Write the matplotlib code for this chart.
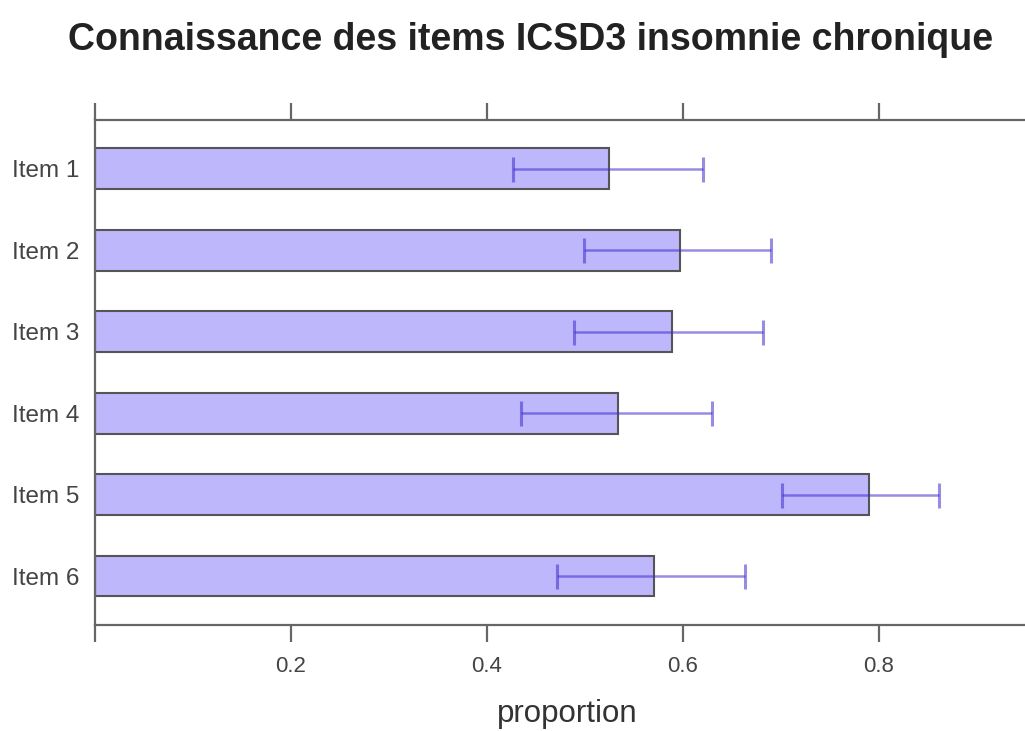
import matplotlib.pyplot as plt
import numpy as np

plt.rcParams['font.family'] = ['Liberation Sans', 'DejaVu Sans']

# Data
items = ['Item 1', 'Item 2', 'Item 3', 'Item 4', 'Item 5', 'Item 6']
proportion = [0.524, 0.597, 0.589, 0.534, 0.790, 0.570]
ci_low = [0.427, 0.499, 0.489, 0.435, 0.701, 0.471]
ci_high = [0.620, 0.690, 0.682, 0.630, 0.861, 0.663]
ticks = [0.0, 0.2, 0.4, 0.6, 0.8]
tick_labels = ['', '0.2', '0.4', '0.6', '0.8']

pos = np.arange(len(items))
prop = np.array(proportion)
err = [prop - np.array(ci_low), np.array(ci_high) - prop]

fig = plt.figure(figsize=(10.25, 7.31), dpi=100)
ax = fig.add_axes([0.0927, 0.145, 0.9073, 0.691])

ax.barh(pos, prop, height=0.5, color='#BEB7FC', edgecolor='#555555', linewidth=1.5, zorder=2)
ax.errorbar(prop, pos, xerr=err, fmt='none', ecolor=(0.25, 0.18, 0.8, 0.55),
            elinewidth=1.8, capsize=9, capthick=2.2, zorder=3)

ax.set_xlim(0, 0.949)
ax.set_ylim(5.6, -0.6)
ax.set_yticks(pos)
ax.set_yticklabels(items)
ax.set_xticks(ticks)
ax.set_xticklabels(tick_labels)

for s in ['left', 'top', 'bottom']:
    ax.spines[s].set_color('#666666')
    ax.spines[s].set_linewidth(1.6)
ax.spines['right'].set_visible(False)

ax.tick_params(axis='x', which='both', top=True, bottom=True, labeltop=False,
               direction='out', length=12, width=1.6, color='#666666',
               labelsize=16, labelcolor='#444444', pad=10)
ax.tick_params(axis='y', length=0, labelsize=17.5, labelcolor='#444444', pad=11)

ax.set_xlabel('proportion', fontsize=22.5, color='#333333')
ax.xaxis.set_label_coords(0.508, -0.146)
fig.suptitle('Connaissance des items ICSD3 insomnie chronique', fontsize=27,
             fontweight='bold', x=0.5176, y=0.97, color='#222222')

plt.savefig('out.png')
